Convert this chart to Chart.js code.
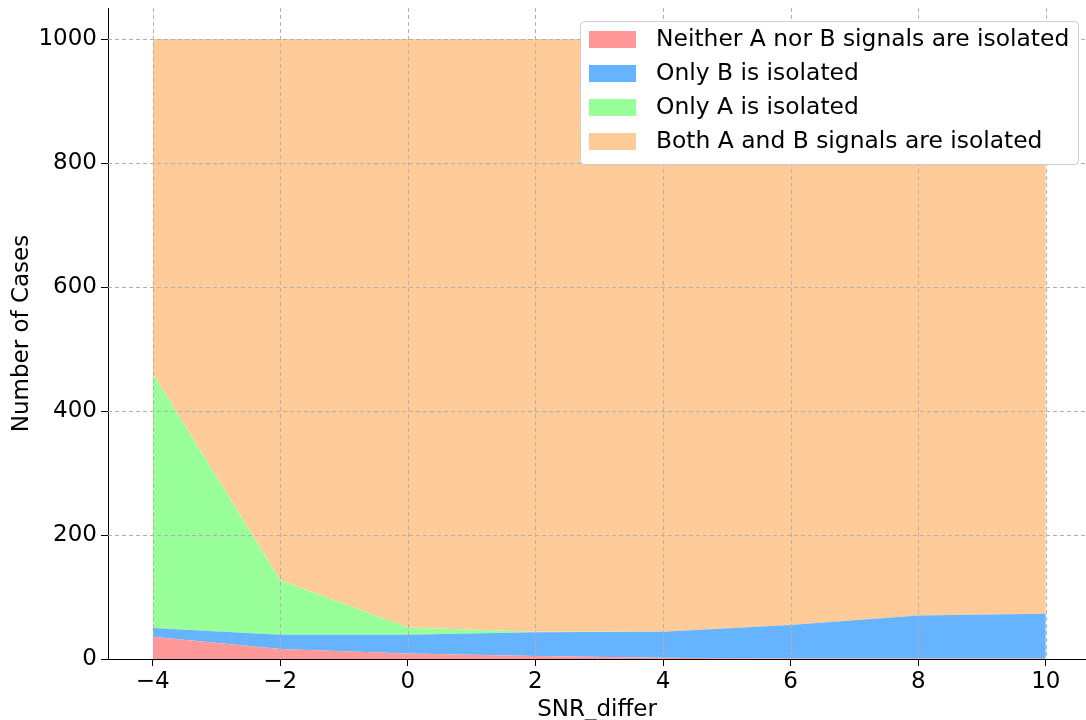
<!DOCTYPE html>
<html>
<head>
<meta charset="utf-8">
<script src="https://cdn.jsdelivr.net/npm/chart.js@4"></script>
<style>
  body { margin: 0; background: #fff; }
  canvas { display: block; }
</style>
</head>
<body>
<canvas id="areaChart" width="1086" height="720"></canvas>
<script>
// Data
const snr = [-4, -2, 0, 2, 4, 6, 8, 10];
const neither = [36, 16, 9, 5, 2, 1, 1, 1];
const onlyB = [14, 23, 30, 38, 42, 54, 69, 72];
const onlyA = [411, 88, 12, 1, 0, 0, 0, 0];
const both = [539, 873, 949, 956, 956, 945, 930, 927];

const seriesLabels = ['Neither A nor B signals are isolated', 'Only B is isolated', 'Only A is isolated', 'Both A and B signals are isolated'];
const colors = ['#ff9999', '#66b3ff', '#99ff99', '#ffcc99'];
const xTicks = [-4, -2, 0, 2, 4, 6, 8, 10];
const yTicks = [0, 200, 400, 600, 800, 1000];

const FONT = 'DejaVu Sans';
Chart.defaults.font.family = FONT;
Chart.defaults.color = '#000';

const series = [neither, onlyB, onlyA, both];
const datasets = series.map((vals, i) => ({
    label: seriesLabels[i],
    data: vals.map((v, j) => ({ x: snr[j], y: v })),
    backgroundColor: colors[i],
    borderWidth: 0,
    pointRadius: 0,
    tension: 0,
    fill: i === 0 ? 'origin' : '-1'
}));

// dashed grid over the areas, then the legend box inside the plot
const overlay = {
    id: 'overlay',
    afterDatasetsDraw(chart) {
        const { ctx, chartArea: a, scales } = chart;
        ctx.save();
        ctx.strokeStyle = '#b0b0b0';
        ctx.lineWidth = 1;
        ctx.setLineDash([4, 3]);
        xTicks.forEach(v => {
            const px = Math.round(scales.x.getPixelForValue(v)) + 0.5;
            ctx.beginPath(); ctx.moveTo(px, a.top); ctx.lineTo(px, a.bottom); ctx.stroke();
        });
        yTicks.forEach(v => {
            if (v === 0) return;
            const py = Math.round(scales.y.getPixelForValue(v)) + 0.5;
            ctx.beginPath(); ctx.moveTo(a.left, py); ctx.lineTo(a.right, py); ctx.stroke();
        });
        ctx.restore();
    },
    afterDraw(chart) {
        const { ctx } = chart;
        const w = 498, h = 143;
        const x0 = 580, y0 = 21;
        ctx.save();
        ctx.beginPath();
        ctx.roundRect(x0 + 0.5, y0 + 0.5, w, h, 4);
        ctx.fillStyle = '#ffffff';
        ctx.fill();
        ctx.strokeStyle = '#cccccc';
        ctx.lineWidth = 1;
        ctx.stroke();
        ctx.font = '23.4px "' + FONT + '"';
        ctx.textBaseline = 'middle';
        chart.data.datasets.forEach((ds, i) => {
            const cy = y0 + 18 + i * 34;
            ctx.fillStyle = ds.backgroundColor;
            ctx.fillRect(x0 + 9, cy - 8, 47, 17);
            ctx.fillStyle = '#000';
            ctx.fillText(ds.label, x0 + 76, cy + 1);
        });
        ctx.restore();
    }
};

new Chart(document.getElementById('areaChart'), {
    type: 'line',
    data: { datasets },
    options: {
        responsive: false,
        devicePixelRatio: 1,
        animation: false,
        layout: { padding: { top: 8, right: 0, left: 0, bottom: 0 } },
        plugins: { legend: { display: false }, tooltip: { enabled: false } },
        scales: {
            x: {
                type: 'linear',
                min: -4.7,
                max: 10.63,
                afterBuildTicks: s => { s.ticks = xTicks.map(v => ({ value: v })); },
                afterFit: s => { s.height = 61; s.paddingLeft = 0; s.paddingRight = 0; },
                ticks: {
                    font: { size: 23 },
                    padding: 2,
                    maxRotation: 0,
                    callback: v => String(v).replace('-', '\u2212')
                },
                grid: { drawOnChartArea: false, drawTicks: true, tickLength: 7, color: '#000' },
                border: { display: true, color: '#000', width: 1 },
                title: { display: true, text: 'SNR_differ', font: { size: 23, lineHeight: 0.9 }, padding: { top: 0, bottom: 0 } }
            },
            y: {
                stacked: true,
                min: 0,
                max: 1050,
                afterBuildTicks: s => { s.ticks = yTicks.map(v => ({ value: v })); },
                afterFit: s => { s.width = 108; s.paddingTop = 0; s.paddingBottom = 0; },
                ticks: { font: { size: 23 }, padding: 4, callback: v => String(v) },
                grid: { drawOnChartArea: false, drawTicks: true, tickLength: 7, color: '#000' },
                border: { display: true, color: '#000', width: 1 },
                title: { display: true, text: 'Number of Cases', font: { size: 23 }, padding: { top: 8, bottom: 0 } }
            }
        }
    },
    plugins: [overlay]
});
</script>
</body>
</html>
